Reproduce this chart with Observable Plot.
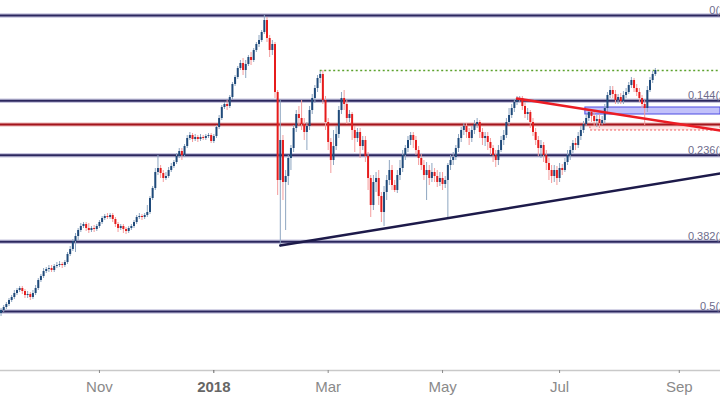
<!DOCTYPE html>
<html><head><meta charset="utf-8">
<script src="https://cdn.jsdelivr.net/npm/d3@7"></script>
<script src="https://cdn.jsdelivr.net/npm/@observablehq/plot@0.6"></script>
<style>
html,body{margin:0;padding:0;background:#fff;overflow:hidden;width:720px;height:400px}
svg{overflow:hidden}
</style></head><body><div id="chart"></div>
<script>
// Daily candles, index = trading weekday (0 = 11 Sep 2017)
const open=[22145,22190,22235,22280,22340,22385,22445,22490,22520,22475,
22415,22430,22385,22445,22520,22640,22700,22775,22805,22820,
22790,22850,22865,22880,22865,22910,23030,23105,23225,23300,
23390,23450,23480,23420,23390,23420,23405,23450,23510,23570,
23600,23585,23615,23555,23480,23420,23450,23405,23375,23420,
23450,23510,23585,23600,23585,23615,23660,23870,24020,24260,
24320,24245,24170,24200,24290,24350,24410,24500,24575,24515,
24650,24770,24815,24755,24785,24755,24785,24770,24800,24815,
24725,24800,24935,25070,25235,25280,25250,25385,25580,25685,
25820,25895,25790,25880,25985,25940,26090,26180,26240,26360,
26540,26270,26090,26180,25460,24140,24740,24110,24200,24470,
24620,24920,25130,25070,24980,24860,24950,25190,25370,25520,
25670,25730,25340,25010,24710,24440,24650,24830,25190,25370,
25280,25070,25130,24890,24770,24860,24650,24740,24500,24170,
23765,24110,24170,23900,23660,23960,24140,24290,24065,23990,
24215,24320,24515,24620,24740,24815,24740,24590,24470,24365,
24215,24290,24170,24260,24200,24110,24170,24080,24140,24365,
24440,24485,24620,24770,24890,24950,24860,24770,24890,24980,
25010,24860,24770,24800,24710,24620,24515,24440,24590,24740,
24815,25010,25115,25220,25310,25355,25370,25250,25130,25160,
25010,24860,24740,24620,24665,24515,24395,24290,24200,24290,
24170,24320,24290,24410,24515,24590,24695,24665,24800,24890,
24980,25070,25160,25100,25025,25055,24995,25040,25220,25415,
25490,25430,25340,25385,25325,25415,25460,25565,25640,25520,
25460,25370,25280,25220,25490,25640,25730];
const high=[22220,22265,22310,22370,22415,22490,22520,22550,22550,22505,
22475,22460,22490,22565,22670,22730,22820,22835,22865,22865,
22880,22910,22925,22910,22940,23060,23150,23255,23345,23420,
23495,23510,23510,23495,23450,23465,23480,23540,23600,23630,
23645,23645,23645,23585,23510,23480,23480,23435,23450,23480,
23540,23615,23645,23630,23645,23765,23900,24050,24320,24515,
24365,24290,24260,24335,24395,24440,24545,24620,24620,24680,
24815,24860,24845,24830,24815,24830,24815,24830,24845,24845,
24830,24965,25115,25265,25310,25340,25415,25610,25715,25850,
25940,25970,25940,26015,26060,26120,26210,26315,26390,26615,
26585,26315,26240,26210,25490,25340,24815,24290,24515,24665,
24965,25190,25250,25340,25070,25010,25250,25430,25565,25715,
25775,25790,25400,25070,24770,24890,24950,25250,25460,25490,
25340,25190,25160,24950,24920,24920,24800,24800,24560,24215,
24215,24260,24290,23960,24050,24215,24440,24365,24140,24290,
24440,24590,24665,24800,24860,24860,24800,24650,24530,24440,
24410,24365,24395,24320,24290,24260,24260,24200,24395,24515,
24560,24665,24830,24935,24995,24995,24920,24950,25040,25070,
25040,24920,24860,24860,24770,24665,24590,24665,24800,24890,
25070,25220,25280,25355,25400,25400,25400,25310,25220,25190,
25070,24920,24800,24740,24710,24590,24470,24365,24365,24350,
24395,24380,24470,24590,24650,24740,24770,24860,24950,25025,
25130,25205,25205,25190,25115,25130,25100,25280,25460,25550,
25550,25490,25430,25445,25475,25520,25610,25685,25670,25580,
25520,25415,25340,25550,25685,25775,25820];
const low=[22100,22160,22205,22250,22310,22355,22415,22460,22430,22370,
22370,22340,22355,22415,22490,22610,22670,22745,22760,22760,
22760,22820,22835,22820,22835,22880,23000,23075,23060,23240,
23360,23420,23375,23345,23360,23360,23375,23420,23480,23540,
23555,23555,23510,23435,23360,23390,23345,23330,23345,23390,
23420,23480,23555,23540,23555,23585,23630,23840,23990,24215,
24170,24110,24140,24170,24260,24320,24380,24470,24440,24485,
24620,24740,24710,24725,24710,24725,24740,24740,24770,24695,
24695,24770,24905,25040,25205,25190,25220,25355,25550,25655,
25790,25715,25670,25850,25865,25910,26060,26135,26210,26330,
26210,25985,26015,25370,23915,23135,23840,23390,24065,24290,
24560,24860,24965,24890,24740,24590,24890,25130,25295,25460,
25595,25280,24890,24590,24245,24365,24590,24770,25130,25190,
24980,25010,24740,24560,24710,24470,24590,24410,23990,23585,
23690,23960,23765,23510,23450,23840,24065,23990,23960,23945,
24140,24260,24440,24560,24665,24620,24515,24365,24290,24140,
23840,24065,24110,24110,24035,24050,23990,24020,23585,24290,
24365,24440,24560,24710,24815,24770,24665,24710,24830,24920,
24770,24665,24650,24590,24515,24410,24335,24365,24560,24665,
24770,24965,25070,25160,25265,25310,25190,25070,25040,24920,
24800,24665,24500,24470,24410,24290,24140,24095,24110,24065,
24110,24215,24260,24365,24440,24545,24590,24620,24740,24845,
24950,25025,25010,24950,24935,24920,24965,24980,25160,25370,
25370,25280,25280,25280,25280,25370,25430,25520,25460,25400,
25310,25220,24965,25160,25460,25595,25700];
const close=[22190,22235,22280,22340,22385,22445,22490,22520,22475,22415,
22430,22385,22445,22520,22640,22700,22775,22805,22820,22790,
22850,22865,22880,22865,22910,23030,23105,23225,23300,23390,
23450,23480,23420,23390,23420,23405,23450,23510,23570,23600,
23585,23615,23555,23480,23420,23450,23405,23375,23420,23450,
23510,23585,23600,23585,23615,23660,23870,24020,24260,24320,
24245,24170,24200,24290,24350,24410,24500,24575,24515,24650,
24770,24815,24755,24785,24755,24785,24770,24800,24815,24725,
24800,24935,25070,25235,25280,25250,25385,25580,25685,25820,
25895,25790,25880,25985,25940,26090,26180,26240,26360,26540,
26270,26090,26180,25460,24140,24740,24110,24200,24470,24620,
24920,25130,25070,24980,24860,24950,25190,25370,25520,25670,
25730,25340,25010,24710,24440,24650,24830,25190,25370,25280,
25070,25130,24890,24770,24860,24650,24740,24500,24170,23765,
24110,24170,23900,23660,23960,24140,24290,24065,23990,24215,
24320,24515,24620,24740,24815,24740,24590,24470,24365,24215,
24290,24170,24260,24200,24110,24170,24080,24140,24365,24440,
24485,24620,24770,24890,24950,24860,24770,24890,24980,25010,
24860,24770,24800,24710,24620,24515,24440,24590,24740,24815,
25010,25115,25220,25310,25355,25370,25250,25130,25160,25010,
24860,24740,24620,24665,24515,24395,24290,24200,24290,24170,
24320,24290,24410,24515,24590,24695,24665,24800,24890,24980,
25070,25160,25100,25025,25055,24995,25040,25220,25415,25490,
25430,25340,25385,25325,25415,25460,25565,25640,25520,25460,
25370,25280,25220,25490,25640,25730,25790];

const xDomain=[-0.2,270.5];
const yDomain=[21290,26840];
const tickIndex=[37,80,123,166,210,255];
const tickLabels=["Nov","2018","Mar","May","Jul","Sep"];
const fibRatios=[0,0.144,0.236,0.382,0.5];
const fibPrices=[26615,25336,24519,23223,22175];
const supportLevel=24980;
const resistLevel=25790, resistStartIdx=120;
const risingTrendIdx=[105,270.5], risingTrendPrice=[23165,24245];
const fallingTrendIdx=[194,270.5], fallingTrendPrice=[25370,24890];
const blueZoneIdx=[219.7,270.5], blueZonePrice=[25130,25235];
const redZoneIdx=[221.6,270.5], redZonePrice=[24890,24980];

const candles=open.map((o,i)=>({i,o,h:high[i],l:low[i],c:close[i],up:close[i]>=o}));
const fibs=fibRatios.map((r,k)=>({r,p:fibPrices[k]}));
const rising=risingTrendIdx.map((i,k)=>({i,p:risingTrendPrice[k]}));
const falling=fallingTrendIdx.map((i,k)=>({i,p:fallingTrendPrice[k]}));
const fmt=i=>tickLabels[tickIndex.indexOf(i)];

const chart=Plot.plot({
  width:720,height:400,marginTop:0,marginRight:0,marginBottom:30,marginLeft:0,
  style:{background:"#fff",overflow:"hidden",fontFamily:"'Liberation Sans', Arial, sans-serif"},
  x:{domain:xDomain,label:null},
  y:{domain:yDomain,axis:null,label:null},
  marks:[
    Plot.frame({anchor:"bottom",stroke:"#c9c9c9",strokeWidth:1.5}),
    Plot.ruleY(fibPrices,{stroke:"#c6c4de",strokeWidth:4.5}),
    Plot.ruleY(fibPrices,{stroke:"#2b275e",strokeWidth:2}),
    Plot.rect([0],{x1:()=>blueZoneIdx[0],x2:()=>blueZoneIdx[1],y1:()=>blueZonePrice[0],y2:()=>blueZonePrice[1],fill:"#9a98f6",fillOpacity:0.6,stroke:"#4d4ae2",strokeWidth:1}),
    Plot.rect([0],{x1:()=>redZoneIdx[0],x2:()=>redZoneIdx[1],y1:()=>redZonePrice[0],y2:()=>redZonePrice[1],fill:"#fde6e6",stroke:"#f05a5a",strokeWidth:1,strokeDasharray:"2,2"}),
    Plot.ruleY([supportLevel],{stroke:"#eab2b2",strokeWidth:4}),
    Plot.ruleY([supportLevel],{stroke:"#a3151c",strokeWidth:2}),
    Plot.ruleY([resistLevel],{x1:()=>resistStartIdx,x2:()=>xDomain[1],stroke:"#5da22e",strokeWidth:1.5,strokeDasharray:"2,2.5"}),
    Plot.ruleX(candles,{x:"i",y1:"l",y2:"h",stroke:d=>d.up?"#8ea6c1":"#f49c9c",strokeWidth:1}),
    Plot.ruleX(candles,{x:"i",y1:"o",y2:"c",stroke:d=>d.up?"#1f4a7a":"#e61c1c",strokeWidth:2}),
    Plot.line(rising,{x:"i",y:"p",stroke:"#1d1a4a",strokeWidth:2.5}),
    Plot.line(falling,{x:"i",y:"p",stroke:"#ec1c24",strokeWidth:2.5}),
    Plot.text(fibs,{y:"p",frameAnchor:"right",text:d=>`${d.r}(${d.p.toFixed(1)})`,textAnchor:"end",dx:42,dy:-5,fontSize:11,fill:"#6e6c8c"}),
    Plot.axisX(tickIndex.filter(i=>fmt(i)!=="2018"),{tickFormat:fmt,fontSize:15,tickSize:3,tickPadding:8,color:"#8a8a8a",label:null}),
    Plot.axisX(tickIndex.filter(i=>fmt(i)==="2018"),{tickFormat:fmt,fontSize:15,tickSize:3,tickPadding:8,color:"#666",fontWeight:"bold",label:null})
  ]
});
document.getElementById("chart").appendChild(chart);
</script></body></html>
